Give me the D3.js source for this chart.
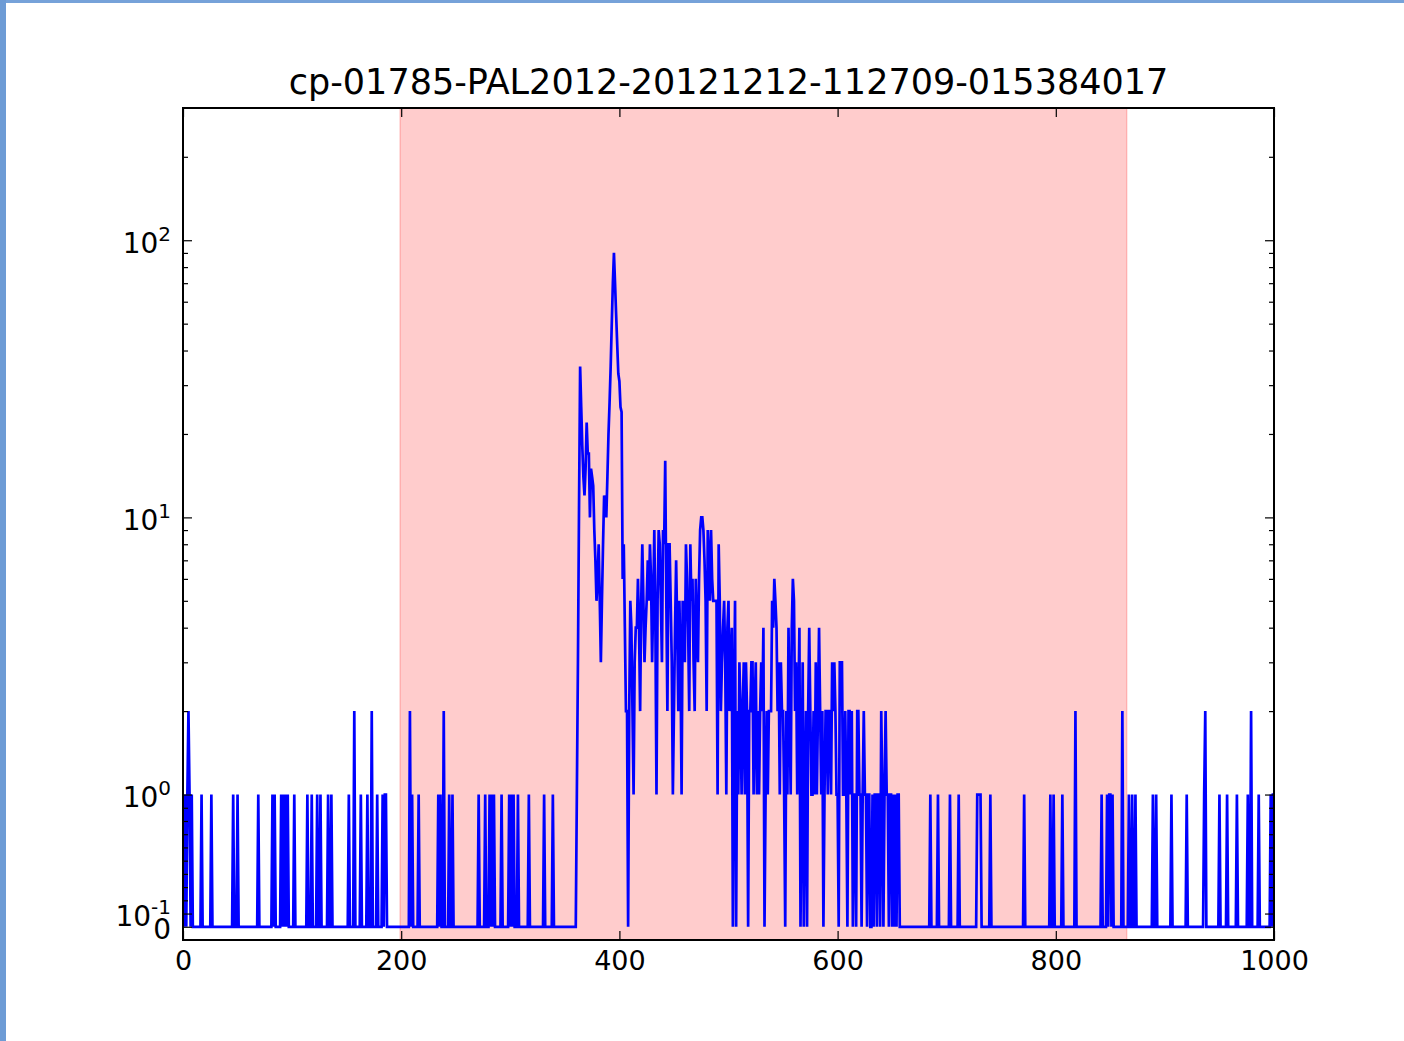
<!DOCTYPE html>
<html>
<head>
<meta charset="utf-8">
<script src="https://cdn.jsdelivr.net/npm/d3@7"></script>
<style>
  html, body { margin: 0; padding: 0; background: #ffffff; }
  svg { display: block; }
  text { font-family: "DejaVu Sans", sans-serif; fill: #000; }
</style>
</head>
<body>
<svg id="chart" width="1404" height="1041"></svg>
<script>
// ---- data: counts per channel (0..1000), zero wherever not listed ----
const chartTitle = "cp-01785-PAL2012-20121212-112709-015384017";

// channels holding a single count outside the main pulse
const singleBins = [0, 2, 4, 6, 8, 17, 26, 46, 50, 69, 82, 84, 90, 92, 94, 96, 102, 114, 118,
  123, 126, 133, 136, 152, 163, 169, 178, 183, 185, 186, 210, 216, 234, 236, 244, 247,
  271, 277, 281, 283, 285, 292, 299, 301, 303, 307, 317, 331, 339,
  685, 692, 703, 711, 728, 729, 730, 731, 740, 771, 795, 798, 806, 842, 847, 849, 850,
  852, 867, 870, 873, 889, 892, 906, 920, 936, 950, 957, 966, 976, 986, 997, 999, 1000];

// channels holding two counts outside the main pulse
const doubleBins = [5, 157, 173, 208, 239, 818, 861, 937, 979];

// the main pulse, channel by channel from peakStart
const peakStart = 360;
const peakCounts = [
  0, 1, 3, 11, 35, 25, 18, 14, 12, 15,     // 360
  22, 17, 17, 10, 15, 14, 13, 9, 7, 5,     // 370
  6, 8, 5, 3, 5, 8, 12, 11, 10, 14,        // 380
  20, 26, 35, 50, 70, 90, 70, 54, 42, 33,  // 390
  31, 25, 24, 6, 8, 4, 2, 2, 0, 2,         // 400
  5, 4, 2, 1, 3, 4, 4, 6, 4, 2,            // 410
  5, 8, 5, 3, 4, 5, 7, 5, 8, 6,            // 420
  3, 5, 9, 4, 1, 5, 9, 8, 5, 3,            // 430
  9, 8, 16, 5, 2, 8, 8, 5, 3, 1,           // 440
  2, 4, 7, 4, 2, 5, 3, 1, 5, 4,            // 450
  3, 8, 6, 4, 2, 8, 5, 6, 3, 2,            // 460
  6, 4, 3, 6, 9, 10, 10, 9, 7, 5,          // 470
  2, 9, 7, 5, 9, 6, 5, 5, 5, 5,            // 480
  1, 8, 5, 2, 3, 4, 5, 3, 1, 4,            // 490
  5, 2, 3, 4, 0, 2, 5, 0, 2, 1,            // 500
  3, 2, 1, 2, 3, 1, 3, 2, 0, 2,            // 510
  2, 3, 3, 1, 2, 3, 1, 2, 1, 2,            // 520
  3, 2, 4, 0, 1, 2, 1, 2, 2, 2,            // 530
  5, 4, 6, 5, 4, 2, 3, 1, 3, 2,            // 540
  2, 1, 0, 2, 1, 4, 2, 1, 4, 6,            // 550
  5, 2, 3, 1, 2, 4, 0, 1, 3, 0,            // 560
  1, 2, 0, 2, 4, 2, 1, 1, 2, 1,            // 570
  3, 1, 2, 4, 2, 1, 2, 0, 1, 2,            // 580
  2, 1, 2, 2, 1, 3, 2, 3, 2, 1,            // 590
  1, 0, 3, 3, 3, 1, 1, 2, 1, 0,            // 600
  2, 2, 1, 2, 0, 1, 1, 0, 2, 2,            // 610
  1, 1, 0, 1, 2, 1, 1, 0, 1, 1,            // 620
  0, 0, 1, 0, 1, 1, 0, 1, 1, 0,            // 630
  2, 1, 0, 1, 2, 1, 1, 0, 1, 1,            // 640
  0, 1, 0, 1, 0, 1, 1, 0                   // 650
];

// highlighted channel window
const windowRange = [199, 865];

// axis ranges and ticks
const xDomain = [0, 1000];
const xTicks = [0, 200, 400, 600, 800, 1000];
const yDomain = [-0.1, 300];
const yMajorTicks = [0, 0.1, 1, 10, 100];
const yMajorLabels = [["0", ""], ["10", "-1"], ["10", "0"], ["10", "1"], ["10", "2"]];
const yMinorTicks = [0.2, 0.3, 0.4, 0.5, 0.6, 0.7, 0.8, 0.9,
  2, 3, 4, 5, 6, 7, 8, 9, 20, 30, 40, 50, 60, 70, 80, 90, 200];

// ---- build the series ----
const counts = new Array(xDomain[1] + 1).fill(0);
singleBins.forEach(b => { counts[b] = 1; });
doubleBins.forEach(b => { counts[b] = 2; });
peakCounts.forEach((c, i) => { counts[peakStart + i] = c; });
const series = counts.map((c, i) => ({ bin: i, count: c }));

// ---- layout ----
const svg = d3.select("#chart");
const plot = { left: 183, right: 1274, top: 108, bottom: 940 };

// page frame strips
svg.append("rect").attr("x", 0).attr("y", 0).attr("width", 1404).attr("height", 3).attr("fill", "#76a2d9");
svg.append("rect").attr("x", 0).attr("y", 0).attr("width", 6).attr("height", 1041).attr("fill", "#6d9bd5");

// symmetric-log transform: linear below 1, logarithmic above
const linBand = Math.log10(3);
const symT = v => (v <= 1 ? v * linBand : linBand + Math.log10(v));

const x = d3.scaleLinear().domain(xDomain).range([plot.left, plot.right]);
const yT = d3.scaleLinear().domain(yDomain.map(symT)).range([plot.bottom, plot.top]);
const y = v => yT(symT(v));

// window shading
svg.append("rect")
  .attr("x", x(windowRange[0]))
  .attr("y", plot.top)
  .attr("width", x(windowRange[1]) - x(windowRange[0]))
  .attr("height", plot.bottom - plot.top)
  .attr("fill", "#ff0000").attr("fill-opacity", 0.2)
  .attr("stroke", "#ff0000").attr("stroke-opacity", 0.2).attr("stroke-width", 1.5);

// count trace
svg.append("clipPath").attr("id", "plotClip")
  .append("rect").attr("x", plot.left).attr("y", plot.top)
  .attr("width", plot.right - plot.left).attr("height", plot.bottom - plot.top);

svg.append("path")
  .datum(series)
  .attr("clip-path", "url(#plotClip)")
  .attr("fill", "none")
  .attr("stroke", "#0000ff")
  .attr("stroke-width", 2.7)
  .attr("stroke-linejoin", "miter")
  .attr("d", d3.line().x(d => x(d.bin)).y(d => y(d.count)));

// ---- axes (ticks point inward) ----
const tickLen = 9, minorLen = 5;

const bottomAxis = svg.append("g")
  .attr("transform", `translate(0,${plot.bottom})`)
  .call(d3.axisBottom(x).tickValues(xTicks).tickSize(-tickLen).tickSizeOuter(0)
    .tickPadding(11).tickFormat(d3.format("d")));
svg.append("g")
  .attr("transform", `translate(0,${plot.top})`)
  .call(d3.axisTop(x).tickValues(xTicks).tickSize(-tickLen).tickSizeOuter(0).tickFormat(""));

const leftAxis = svg.append("g")
  .attr("transform", `translate(${plot.left},0)`)
  .call(d3.axisLeft(yT).tickValues(yMajorTicks.map(symT)).tickSize(-tickLen).tickSizeOuter(0).tickPadding(12).tickFormat(""));
svg.append("g")
  .attr("transform", `translate(${plot.left},0)`)
  .call(d3.axisLeft(yT).tickValues(yMinorTicks.map(symT)).tickSize(-minorLen).tickSizeOuter(0).tickFormat(""));
svg.append("g")
  .attr("transform", `translate(${plot.right},0)`)
  .call(d3.axisRight(yT).tickValues(yMajorTicks.map(symT)).tickSize(-tickLen).tickSizeOuter(0).tickFormat(""));
svg.append("g")
  .attr("transform", `translate(${plot.right},0)`)
  .call(d3.axisRight(yT).tickValues(yMinorTicks.map(symT)).tickSize(-minorLen).tickSizeOuter(0).tickFormat(""));

svg.selectAll(".domain").remove();
svg.selectAll(".tick line").attr("stroke", "#000").attr("stroke-width", 1.2);

bottomAxis.selectAll("text")
  .attr("font-size", 27).attr("font-family", "DejaVu Sans").attr("fill", "#000");

// y labels as base + superscript
leftAxis.selectAll(".tick text").each(function (d, i) {
  const t = d3.select(this)
    .attr("font-size", 28).attr("font-family", "DejaVu Sans")
    .attr("fill", "#000").attr("dy", "0.42em").text(null);
  const [base, sup] = yMajorLabels[i];
  t.append("tspan").text(base);
  if (sup) {
    t.append("tspan").attr("font-size", 20).attr("dy", -12).text(sup);
  }
});

// axes frame
svg.append("rect")
  .attr("x", plot.left).attr("y", plot.top)
  .attr("width", plot.right - plot.left).attr("height", plot.bottom - plot.top)
  .attr("fill", "none").attr("stroke", "#000").attr("stroke-width", 2);

// title
svg.append("text")
  .attr("x", (plot.left + plot.right) / 2).attr("y", 94)
  .attr("text-anchor", "middle")
  .attr("font-size", 35)
  .text(chartTitle);
</script>
</body>
</html>
